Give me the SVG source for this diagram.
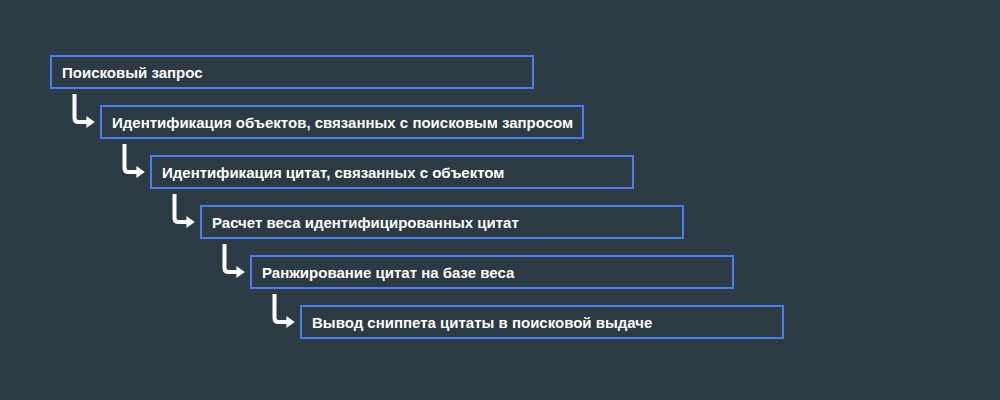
<svg xmlns="http://www.w3.org/2000/svg" width="1000" height="400" viewBox="0 0 1000 400">
<style>
.box{fill:none;stroke:#4a7df0;stroke-width:2}
.lbl{font-family:"Liberation Sans",Arial,sans-serif;font-weight:bold;font-size:15px;fill:#ffffff}
.conn{fill:none;stroke:#ffffff;stroke-width:4;stroke-linejoin:round}
</style>
<defs>
<marker id="ah" viewBox="0 0 10 10" refX="3" refY="5" markerWidth="3" markerHeight="3" orient="auto" markerUnits="strokeWidth">
<path d="M0 0 L7 5 L0 10 Z" fill="#ffffff"/>
</marker>
</defs>
<rect width="1000" height="400" fill="#2b3a43"/>
<g id="connectors">
<path class="conn" d="M74.5 94 V118 Q74.5 122 78.5 122 H90" marker-end="url(#ah)"/>
<path class="conn" d="M124.5 144 V168 Q124.5 172 128.5 172 H140" marker-end="url(#ah)"/>
<path class="conn" d="M174.5 194 V218 Q174.5 222 178.5 222 H190" marker-end="url(#ah)"/>
<path class="conn" d="M224.5 244 V268 Q224.5 272 228.5 272 H240" marker-end="url(#ah)"/>
<path class="conn" d="M274.5 294 V318 Q274.5 322 278.5 322 H290" marker-end="url(#ah)"/>
</g>
<g id="n1"><rect class="box" x="51" y="56" width="482" height="32"/><text class="lbl" x="62" y="77.5">Поисковый запрос</text></g>
<g id="n2"><rect class="box" x="101" y="106" width="482" height="32"/><text class="lbl" x="112" y="127.5">Идентификация объектов, связанных с поисковым запросом</text></g>
<g id="n3"><rect class="box" x="151" y="156" width="482" height="32"/><text class="lbl" x="162" y="177.5">Идентификация цитат, связанных с объектом</text></g>
<g id="n4"><rect class="box" x="201" y="206" width="482" height="32"/><text class="lbl" x="212" y="227.5">Расчет веса идентифицированных цитат</text></g>
<g id="n5"><rect class="box" x="251" y="256" width="482" height="32"/><text class="lbl" x="262" y="277.5">Ранжирование цитат на базе веса</text></g>
<g id="n6"><rect class="box" x="301" y="306" width="482" height="32"/><text class="lbl" x="312" y="327.5">Вывод сниппета цитаты в поисковой выдаче</text></g>
</svg>
